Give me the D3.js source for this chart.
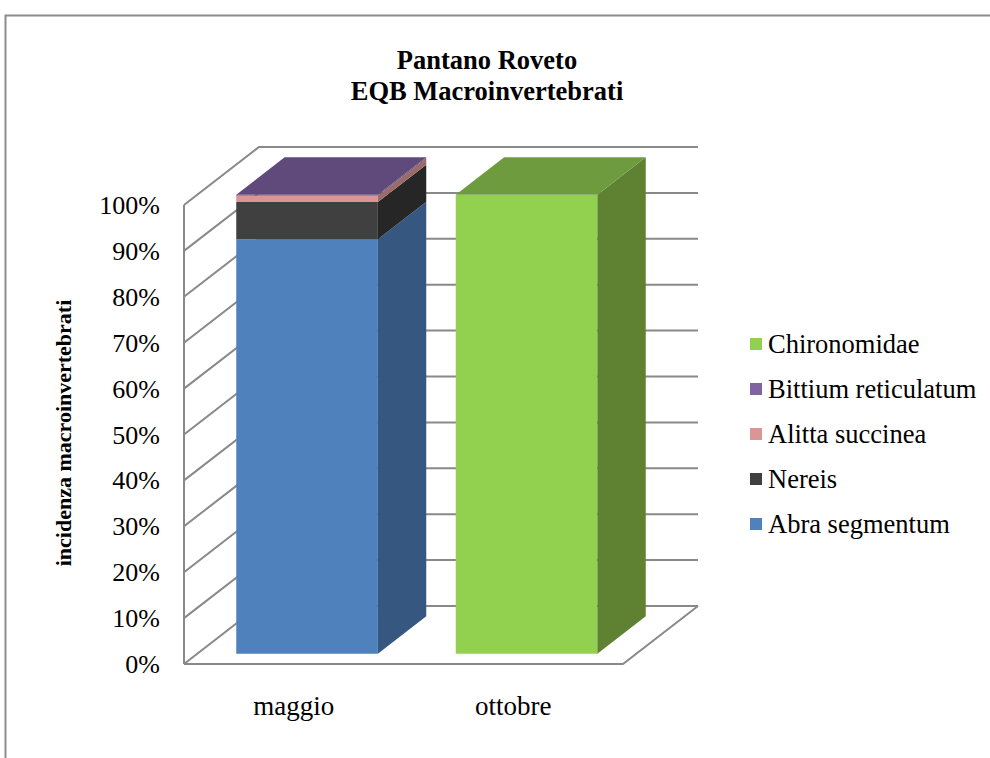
<!DOCTYPE html>
<html>
<head>
<meta charset="utf-8">
<script src="https://cdn.jsdelivr.net/npm/d3@7"></script>
<style>
  html, body { margin: 0; padding: 0; background: #fff; }
  svg { display: block; }
  text { font-family: "Liberation Serif", "Times New Roman", serif; fill: #000; }
</style>
</head>
<body>
<svg id="chart" width="990" height="758"></svg>
<script>
// Sampling campaigns and share of each taxon (percent of individuals)
const categories = ["maggio", "ottobre"];
const abraSegmentum = [90.3, 0];
const nereis = [8.1, 0];
const alittaSuccinea = [1.4, 0];
const bittiumReticulatum = [0.2, 0];
const chironomidae = [0, 100];

const seriesNames = ["Abra segmentum", "Nereis", "Alitta succinea", "Bittium reticulatum", "Chironomidae"];
const seriesValues = [abraSegmentum, nereis, alittaSuccinea, bittiumReticulatum, chironomidae];
const yTickLabels = ["0%", "10%", "20%", "30%", "40%", "50%", "60%", "70%", "80%", "90%", "100%"];

const titleLines = ["Pantano Roveto", "EQB Macroinvertebrati"];
const yAxisTitle = "incidenza macroinvertebrati";

// face colours per series: front, side, top
const palette = {
  "Abra segmentum":      { front: "#4F81BD", side: "#355780", top: "#3F6797", legend: "#4F81BD" },
  "Nereis":              { front: "#404040", side: "#262626", top: "#333333", legend: "#404040" },
  "Alitta succinea":     { front: "#D99694", side: "#9C6B69", top: "#B57C7A", legend: "#D99694" },
  "Bittium reticulatum": { front: "#8064A2", side: "#5A4873", top: "#604A7B", legend: "#8064A2" },
  "Chironomidae":        { front: "#92D050", side: "#5F8232", top: "#6E9B3D", legend: "#92D050" }
};

const svg = d3.select("#chart");

// outer chart frame
svg.append("rect")
  .attr("x", 5.5).attr("y", 15.5)
  .attr("width", 1000).attr("height", 800)
  .attr("fill", "none").attr("stroke", "#8c8c8c").attr("stroke-width", 2);

// front plane of the 3-D plot box and depth vector
const front = { left: 184, right: 623, bottom: 664, top: 205 };
const DEPTH = { dx: 75, dy: -58 };

const x = d3.scaleBand().domain(categories).range([front.left, front.right]).paddingInner(0).paddingOuter(0);
const y = d3.scaleLinear().domain([0, 1]).range([front.bottom, front.top]);

// project a point of the front plane back by a depth fraction
const proj = (px, py, d) => [px + d * DEPTH.dx, py + d * DEPTH.dy];
const poly = pts => pts.map(p => p.join(",")).join(" ");

const gridColor = "#898989";
const yTicks = d3.range(0, 1.0001, 0.1);

// walls: left wall slanted gridlines, back wall horizontal gridlines
const walls = svg.append("g");
yTicks.forEach(t => {
  const a = proj(front.left, y(t), 0);
  const b = proj(front.left, y(t), 1);
  const c = proj(front.right, y(t), 1);
  walls.append("polyline")
    .attr("points", poly([a, b, c]))
    .attr("fill", "none").attr("stroke", gridColor).attr("stroke-width", 2);
});
// left wall front edge
walls.append("line")
  .attr("x1", front.left).attr("y1", y(0)).attr("x2", front.left).attr("y2", y(1))
  .attr("stroke", gridColor).attr("stroke-width", 2);
// floor front and right edges
walls.append("polyline")
  .attr("points", poly([proj(front.left, y(0), 0), proj(front.right, y(0), 0), proj(front.right, y(0), 1)]))
  .attr("fill", "none").attr("stroke", gridColor).attr("stroke-width", 2);

// stacked, normalised data
const rows = categories.map((c, i) => {
  const r = { category: c };
  seriesNames.forEach((s, k) => { r[s] = seriesValues[k][i]; });
  return r;
});
const stacked = d3.stack().keys(seriesNames).offset(d3.stackOffsetExpand)(rows);

// bar geometry inside each category band
const barFrac = 1 / 1.55;                // bar width share of the band
const d0 = (1 - barFrac) / 2, d1 = d0 + barFrac;   // bar depth range

const bars = svg.append("g");
categories.forEach((cat, i) => {
  const bx0 = x(cat) + x.bandwidth() * (1 - barFrac) / 2;
  const bx1 = bx0 + x.bandwidth() * barFrac;
  let topSeries = null, topVal = 0;
  stacked.forEach(layer => {
    const [v0, v1] = layer[i];
    if (v1 - v0 <= 0) return;
    const col = palette[layer.key];
    const y0 = y(v0), y1 = y(v1);
    // front face
    bars.append("polygon")
      .attr("points", poly([proj(bx0, y0, d0), proj(bx1, y0, d0), proj(bx1, y1, d0), proj(bx0, y1, d0)]))
      .attr("fill", col.front);
    // right side face
    bars.append("polygon")
      .attr("points", poly([proj(bx1, y0, d0), proj(bx1, y0, d1), proj(bx1, y1, d1), proj(bx1, y1, d0)]))
      .attr("fill", col.side);
    topSeries = layer.key; topVal = v1;
  });
  if (topSeries) {
    const yt = y(topVal);
    bars.append("polygon")
      .attr("points", poly([proj(bx0, yt, d0), proj(bx1, yt, d0), proj(bx1, yt, d1), proj(bx0, yt, d1)]))
      .attr("fill", palette[topSeries].top);
  }
});

// y tick labels
svg.append("g").selectAll("text")
  .data(yTicks)
  .join("text")
  .attr("x", 160)
  .attr("y", t => y(t) + 9)
  .attr("text-anchor", "end")
  .attr("font-size", 26)
  .text((t, i) => yTickLabels[i]);

// category labels
svg.append("g").selectAll("text")
  .data(categories)
  .join("text")
  .attr("x", c => x(c) + x.bandwidth() / 2)
  .attr("y", 715)
  .attr("text-anchor", "middle")
  .attr("font-size", 27)
  .text(c => c);

// title
svg.append("g").selectAll("text")
  .data(titleLines)
  .join("text")
  .attr("x", 487)
  .attr("y", (d, i) => 69 + i * 31)
  .attr("text-anchor", "middle")
  .attr("font-size", 26.5)
  .attr("font-weight", "bold")
  .text(d => d);

// y axis title
svg.append("text")
  .attr("transform", "translate(71,433) rotate(-90)")
  .attr("text-anchor", "middle")
  .attr("font-size", 22)
  .attr("font-weight", "bold")
  .text(yAxisTitle);

// legend, top series first
const legendOrder = seriesNames.slice().reverse();
const legend = svg.append("g");
legendOrder.forEach((s, i) => {
  const cy = 344 + i * 45;
  legend.append("rect")
    .attr("x", 750).attr("y", cy - 6).attr("width", 12).attr("height", 12)
    .attr("fill", palette[s].legend);
  legend.append("text")
    .attr("x", 768).attr("y", cy + 9)
    .attr("font-size", 26.5)
    .text(s);
});
</script>
</body>
</html>
